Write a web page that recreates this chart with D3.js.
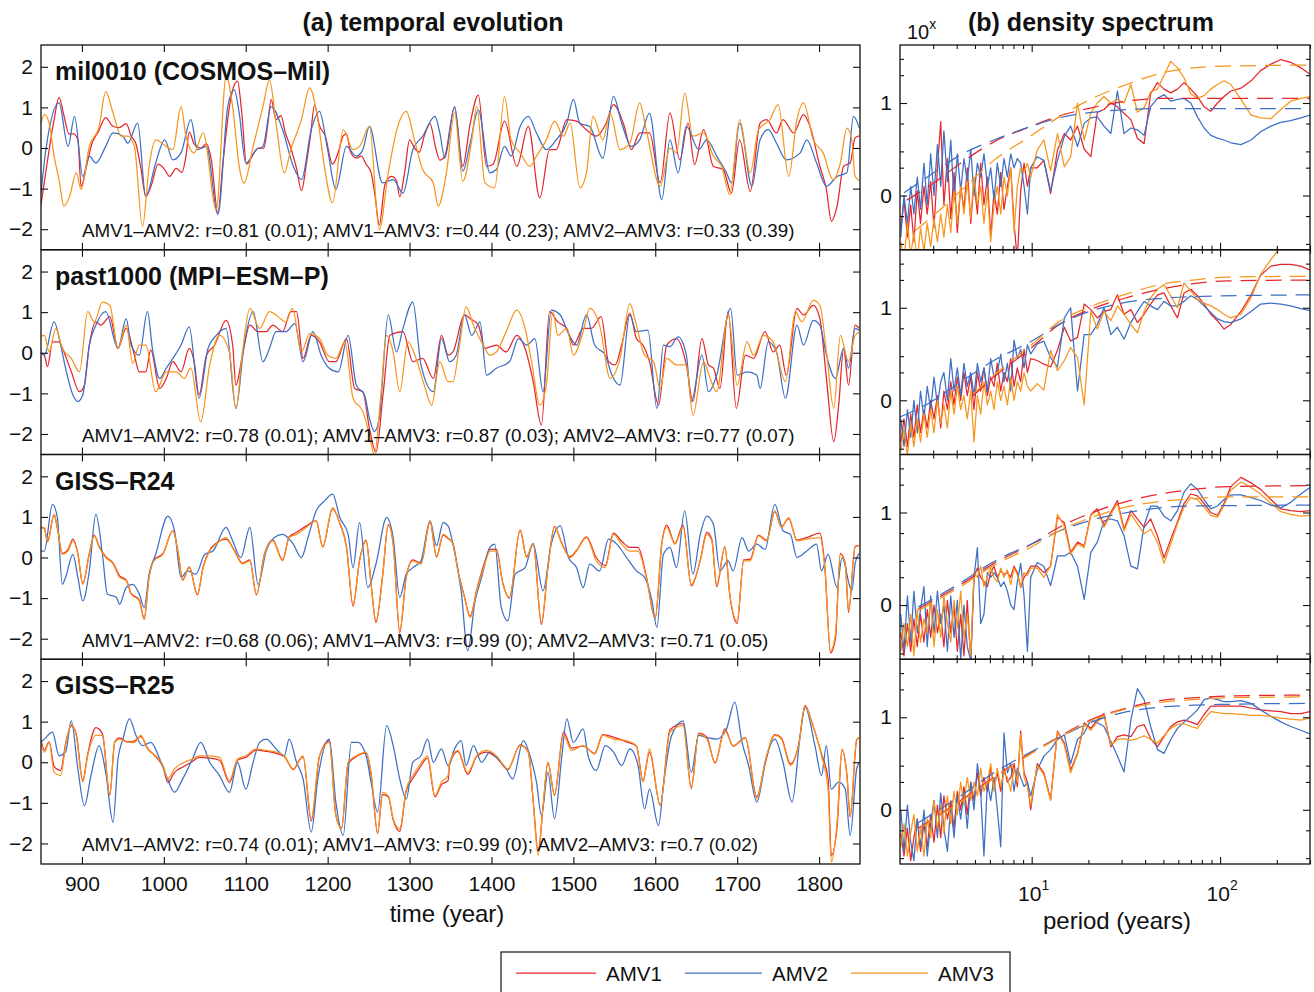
<!DOCTYPE html>
<html><head><meta charset="utf-8">
<script src="https://cdn.jsdelivr.net/npm/d3@7"></script>
<style>body{margin:0;background:#fff}svg{font-family:"Liberation Sans",Arial,Helvetica,sans-serif}</style>
</head><body>
<svg id="c" width="1314" height="992"></svg>
<script>
// ---------------- DATA ----------------
const panelNames = ["mil0010 (COSMOS\u2013Mil)", "past1000 (MPI\u2013ESM\u2013P)", "GISS\u2013R24", "GISS\u2013R25"];
const statTexts = [
  "AMV1\u2013AMV2: r=0.81 (0.01); AMV1\u2013AMV3: r=0.44 (0.23); AMV2\u2013AMV3: r=0.33 (0.39)",
  "AMV1\u2013AMV2: r=0.78 (0.01); AMV1\u2013AMV3: r=0.87 (0.03); AMV2\u2013AMV3: r=0.77 (0.07)",
  "AMV1\u2013AMV2: r=0.68 (0.06); AMV1\u2013AMV3: r=0.99 (0); AMV2\u2013AMV3: r=0.71 (0.05)",
  "AMV1\u2013AMV2: r=0.74 (0.01); AMV1\u2013AMV3: r=0.99 (0); AMV2\u2013AMV3: r=0.7 (0.02)"
];
const seriesNames = ["AMV1", "AMV2", "AMV3"];
const timeTicks = [900,1000,1100,1200,1300,1400,1500,1600,1700,1800];
const ampTicks = [-2,-1,0,1,2];
const specMajorTicks = [10,100];
const specMinorTicks = [3,4,5,6,7,8,9,20,30,40,50,60,70,80,90,200,300];
const specYLabelTicks = [0,1];
const specYMinorTicks = [-0.523,-0.222,0.301,0.477,0.778,1.301,1.477];

// time series [year, normalized AMV]
const p1Amv1 = [[850,-1.4],[858,-0.3],[866,0.7],[872,1.25],[878,0.8],[884,0.35],[890,0.35],[895,0.2],[899,-0.95],[905,-0.5],[912,0.1],[920,0.4],[929,0.75],[937,0.55],[945,0.5],[954,0.6],[960,0.3],[966,0.1],[972,-0.5],[978,-1.2],[985,-0.9],[993,-0.4],[1000,-0.5],[1007,-0.7],[1015,-0.5],[1022,-0.6],[1027,-0.2],[1031,0.4],[1037,0.1],[1045,0.0],[1052,0.1],[1058,-0.3],[1066,-1.6],[1072,-0.4],[1080,1.0],[1085,1.5],[1090,1.65],[1095,0.9],[1101,-0.4],[1108,-0.2],[1115,0.0],[1122,0.0],[1127,0.6],[1131,1.2],[1137,0.7],[1143,0.8],[1148,0.4],[1155,0.0],[1162,-0.5],[1168,-1.05],[1174,-0.4],[1179,0.3],[1184,1.05],[1190,0.55],[1197,0.3],[1206,-0.4],[1213,-0.1],[1219,0.3],[1223,0.35],[1228,-0.1],[1235,-0.25],[1241,-0.2],[1247,-0.4],[1253,-0.6],[1258,-1.2],[1263,-1.9],[1270,-0.9],[1278,-0.7],[1284,-0.8],[1288,-1.2],[1294,-0.6],[1300,0.2],[1306,0.0],[1312,-0.1],[1318,0.3],[1325,0.6],[1332,0.0],[1337,-0.3],[1343,-0.2],[1355,1.0],[1365,-0.45],[1374,0.6],[1384,1.3],[1394,-0.45],[1402,-0.4],[1416,0.66],[1431,-0.45],[1445,0.53],[1459,-1.23],[1471,-0.04],[1479,-0.04],[1492,0.7],[1504,0.66],[1516,0.45],[1528,0.29],[1540,0.61],[1549,1.07],[1561,0.61],[1571,-0.04],[1581,0.37],[1593,0.37],[1606,-0.86],[1618,0.86],[1630,-0.29],[1640,0.61],[1648,-0.41],[1659,0.45],[1671,-0.45],[1683,-0.53],[1693,-1.11],[1703,0.2],[1716,-1.07],[1728,0.61],[1736,0.7],[1748,0.37],[1756,0.7],[1769,0.37],[1781,0.82],[1789,0.53],[1801,-0.45],[1809,-1.02],[1815,-1.8],[1822,-1.43],[1830,-0.45],[1838,-0.37],[1844,0.25],[1849,0.3]];
const p1Amv2 = [[850,-1.11],[856,-0.04],[872,1.11],[883,0.04],[891,0.78],[901,-0.7],[909,-0.2],[917,-0.37],[929,0.04],[938,0.37],[950,0.29],[956,0.12],[968,0.61],[978,-1.19],[990,-0.37],[1001,0.2],[1011,-0.29],[1021,-0.12],[1033,0.7],[1041,-0.04],[1052,0.04],[1066,-1.64],[1078,1.02],[1086,1.43],[1092,0.86],[1100,-0.37],[1113,-0.04],[1121,0.04],[1131,1.02],[1145,0.45],[1158,-0.45],[1168,-0.78],[1180,0.45],[1190,0.9],[1200,-0.04],[1210,-1.02],[1223,0.04],[1235,-0.2],[1243,-0.04],[1251,0.53],[1267,-0.86],[1280,-0.78],[1292,-1.11],[1304,-0.04],[1316,0.29],[1331,0.78],[1337,0.37],[1343,-0.25],[1355,1.02],[1365,-0.57],[1374,0.12],[1384,0.94],[1398,-0.61],[1406,-0.53],[1416,0.04],[1424,-0.2],[1435,0.53],[1445,0.78],[1455,0.37],[1467,-0.04],[1479,0.2],[1492,0.61],[1500,1.2],[1508,0.61],[1520,0.53],[1536,-0.25],[1549,1.27],[1559,0.61],[1571,0.04],[1581,0.2],[1593,0.86],[1608,-1.27],[1618,0.2],[1628,-0.61],[1638,0.53],[1653,-0.04],[1663,0.2],[1675,-0.2],[1687,-0.61],[1693,-0.86],[1703,0.61],[1718,-0.94],[1728,0.2],[1738,0.45],[1748,0.12],[1760,-0.29],[1777,-0.12],[1785,0.2],[1797,-0.37],[1809,-0.94],[1822,-0.7],[1834,-0.61],[1842,0.78],[1849,0.5]];
const p1Amv3 = [[850,0.61],[854,0.82],[860,0.61],[866,-0.2],[872,-0.78],[878,-1.43],[885,-1.19],[893,-0.61],[899,-1.02],[909,0.04],[921,0.53],[929,1.39],[938,0.86],[948,0.29],[956,0.29],[964,0.04],[974,-1.93],[982,-0.45],[990,0.2],[1003,0.04],[1011,-0.04],[1021,1.02],[1027,0.29],[1037,-0.12],[1048,0.37],[1064,-1.52],[1076,1.76],[1084,1.02],[1092,-0.45],[1098,-0.86],[1109,0.04],[1121,1.02],[1129,1.68],[1137,0.61],[1147,-0.61],[1155,-0.04],[1168,0.7],[1178,1.48],[1188,0.7],[1196,-0.45],[1206,-1.35],[1219,0.45],[1231,-0.04],[1239,0.04],[1251,0.53],[1263,-2.01],[1274,-0.61],[1285,0.49],[1296,0.9],[1306,0.2],[1316,-0.53],[1329,-0.86],[1335,-1.43],[1345,-0.61],[1355,0.86],[1365,-0.82],[1376,0.2],[1382,1.02],[1392,-0.86],[1404,-0.98],[1416,1.27],[1424,0.2],[1435,-0.12],[1447,-0.45],[1455,-0.2],[1467,0.2],[1477,0.66],[1488,0.29],[1496,0.61],[1508,-0.98],[1516,-0.61],[1524,0.78],[1536,0.2],[1545,0.86],[1557,-0.04],[1569,0.12],[1581,1.11],[1589,0.45],[1606,-0.94],[1618,0.0],[1626,-0.12],[1636,1.35],[1646,0.29],[1659,0.37],[1671,-0.2],[1681,-0.45],[1691,-1.15],[1703,0.7],[1716,-0.61],[1726,0.45],[1740,0.7],[1750,1.07],[1763,-0.7],[1773,0.7],[1781,1.11],[1793,0.2],[1805,-0.12],[1817,-0.78],[1826,-0.37],[1834,0.49],[1840,0.2],[1844,-0.7],[1849,-0.8]];

const p2Amv1 = [[850,0.0],[854,-0.06],[858,-0.34],[864,0.27],[872,0.27],[878,0.02],[887,-0.47],[897,-0.96],[903,-0.8],[909,0.19],[917,0.76],[923,0.68],[934,0.89],[944,0.11],[954,0.6],[964,-0.06],[970,-0.47],[978,-0.47],[984,0.07],[995,-0.88],[1003,-0.63],[1011,-0.22],[1021,-0.47],[1031,0.11],[1037,-0.22],[1043,-1.04],[1052,-0.06],[1062,0.19],[1076,0.8],[1084,0.19],[1088,-0.8],[1096,-0.06],[1105,0.68],[1115,0.52],[1125,0.52],[1133,0.68],[1145,0.52],[1155,1.01],[1162,1.01],[1170,-0.14],[1180,0.43],[1190,0.27],[1202,-0.22],[1210,-0.22],[1223,0.35],[1233,-0.88],[1243,-0.96],[1251,-1.86],[1259,-2.45],[1268,-0.96],[1276,0.43],[1292,0.52],[1304,-0.22],[1316,-0.14],[1329,-0.63],[1339,0.43],[1347,-0.06],[1353,0.02],[1367,0.93],[1374,0.84],[1384,0.68],[1392,0.11],[1406,0.19],[1418,0.02],[1431,0.43],[1441,0.11],[1451,-0.71],[1461,-1.78],[1471,1.01],[1481,0.76],[1492,0.6],[1500,0.19],[1512,0.6],[1522,0.6],[1534,0.89],[1543,-0.22],[1551,-0.3],[1559,0.19],[1569,0.97],[1577,0.35],[1585,0.19],[1593,-0.22],[1604,-1.29],[1614,0.19],[1626,0.35],[1638,-0.3],[1646,-1.2],[1657,0.35],[1665,-0.3],[1671,-0.38],[1679,-0.88],[1689,1.01],[1699,-1.37],[1710,-0.06],[1720,-0.14],[1734,0.52],[1744,0.02],[1752,0.19],[1760,-0.55],[1773,1.09],[1781,0.93],[1793,1.17],[1801,0.84],[1809,-0.63],[1818,-2.19],[1824,-1.29],[1830,0.11],[1836,-0.8],[1844,0.68],[1849,0.6]];
const p2Amv2 = [[850,0.0],[854,-0.06],[866,0.76],[874,0.19],[880,-0.38],[889,-1.04],[895,-1.2],[901,-1.04],[909,0.19],[917,0.68],[929,1.01],[944,0.11],[954,0.84],[960,0.19],[970,-0.06],[980,1.01],[986,0.11],[995,-0.63],[1003,-0.38],[1011,-0.14],[1021,0.19],[1031,0.64],[1043,-1.12],[1054,0.11],[1064,0.43],[1076,0.6],[1088,-1.37],[1098,0.19],[1109,1.01],[1121,-0.22],[1129,0.11],[1137,0.52],[1149,0.52],[1160,0.72],[1170,-0.22],[1182,0.52],[1192,-0.06],[1202,-0.38],[1213,-0.47],[1225,0.43],[1235,-0.8],[1245,-1.04],[1251,-1.61],[1257,-1.94],[1263,-1.61],[1274,0.93],[1284,0.02],[1292,0.6],[1304,1.25],[1314,-0.3],[1329,-0.96],[1339,0.35],[1349,-0.22],[1357,-0.06],[1367,0.93],[1376,0.43],[1386,0.76],[1394,-0.55],[1406,-0.38],[1422,-0.22],[1433,0.35],[1443,0.19],[1453,0.35],[1463,-0.96],[1473,1.05],[1484,0.93],[1494,0.47],[1504,0.19],[1516,0.93],[1526,0.19],[1539,-0.06],[1547,-0.55],[1557,-0.8],[1569,0.93],[1577,0.52],[1591,0.56],[1602,-1.37],[1610,0.19],[1618,0.15],[1628,0.39],[1638,-0.06],[1644,-1.2],[1657,-0.06],[1665,-0.96],[1675,-0.55],[1692,1.09],[1700,-0.55],[1712,-0.47],[1724,-0.55],[1728,-0.88],[1738,0.27],[1748,0.02],[1759,-1.12],[1773,0.68],[1781,0.19],[1793,0.8],[1801,0.68],[1809,-0.06],[1820,-0.63],[1830,0.11],[1836,-0.38],[1844,0.6],[1849,0.55]];
const p2Amv3 = [[850,0.4],[854,0.43],[860,0.02],[868,0.6],[876,0.11],[887,-0.14],[897,-0.47],[907,1.01],[915,0.76],[925,1.25],[934,1.17],[944,0.11],[954,0.68],[962,-0.26],[970,0.19],[978,0.19],[990,-0.96],[1003,-0.47],[1015,-0.47],[1025,-0.63],[1033,-0.38],[1045,-1.7],[1056,-0.3],[1068,0.43],[1080,0.02],[1088,-1.37],[1096,0.02],[1105,1.09],[1117,0.6],[1129,1.01],[1137,0.93],[1149,0.76],[1157,1.09],[1168,0.02],[1178,0.47],[1190,0.35],[1200,-0.06],[1210,-0.14],[1221,0.27],[1231,-1.12],[1243,-1.45],[1251,-2.02],[1257,-2.52],[1265,-1.04],[1272,0.43],[1280,0.02],[1288,-0.96],[1298,0.27],[1308,-0.14],[1318,-0.8],[1327,-1.29],[1337,-0.22],[1347,-0.71],[1353,-0.71],[1361,0.19],[1369,1.13],[1378,0.68],[1390,0.19],[1398,-0.06],[1406,0.02],[1418,0.52],[1431,1.05],[1441,0.6],[1449,-0.22],[1459,-1.29],[1467,-0.8],[1475,1.01],[1481,0.43],[1492,0.6],[1500,-0.06],[1512,0.52],[1520,1.09],[1532,0.68],[1545,-0.63],[1557,-0.14],[1569,1.21],[1577,0.68],[1587,-0.06],[1598,-0.22],[1606,-0.88],[1614,-0.14],[1626,-0.3],[1638,-0.3],[1646,-1.54],[1659,-0.22],[1667,-0.63],[1675,-0.96],[1689,0.93],[1700,-0.8],[1712,0.27],[1720,-0.06],[1732,0.43],[1744,0.27],[1759,-0.71],[1771,1.01],[1779,0.76],[1793,1.29],[1801,1.17],[1809,0.02],[1818,-1.37],[1826,0.43],[1836,-0.22],[1844,0.43],[1849,0.5]];

const p3Amv1 = [[850,0.75],[854,0.72],[858,0.4],[866,1.05],[870,0.72],[876,0.1],[883,0.2],[889,0.45],[895,0.1],[901,-0.64],[909,0.1],[915,0.55],[921,0.27],[929,0.02],[938,-0.14],[946,-0.45],[954,-0.55],[960,-0.88],[970,-1.05],[976,-1.52],[982,-0.47],[988,-0.06],[999,0.1],[1011,0.66],[1017,0.18],[1023,-0.55],[1031,-0.23],[1041,-0.92],[1048,-0.23],[1056,0.18],[1064,0.35],[1076,0.45],[1086,0.18],[1096,-0.14],[1105,-0.06],[1113,-0.92],[1123,0.1],[1133,0.43],[1145,-0.06],[1153,0.51],[1162,0.62],[1174,0.78],[1186,0.9],[1194,0.27],[1206,1.2],[1215,0.84],[1223,0.27],[1231,-1.2],[1239,-0.06],[1247,0.43],[1253,-0.64],[1259,-1.6],[1267,-0.47],[1274,0.8],[1280,0.35],[1288,-1.85],[1296,-0.47],[1304,-0.06],[1314,-0.14],[1325,0.88],[1333,0.02],[1341,0.55],[1347,0.47],[1353,0.35],[1359,-0.31],[1367,-0.96],[1374,-1.45],[1382,-0.8],[1392,-0.1],[1398,0.2],[1406,0.2],[1414,-0.64],[1422,-1.0],[1435,0.68],[1443,0.02],[1451,0.35],[1461,-1.65],[1469,-0.23],[1477,0.76],[1486,0.35],[1496,0.02],[1504,0.18],[1516,0.51],[1528,0.0],[1539,-0.2],[1549,0.6],[1559,0.4],[1569,0.25],[1579,0.25],[1589,-0.45],[1600,-1.5],[1608,0.35],[1614,0.8],[1624,0.35],[1634,0.8],[1644,-0.7],[1655,-0.06],[1663,0.62],[1669,0.45],[1675,-0.72],[1685,0.27],[1691,-0.92],[1700,-1.62],[1708,-0.06],[1716,-0.04],[1726,0.55],[1736,0.43],[1746,1.13],[1754,0.76],[1763,0.96],[1773,0.43],[1785,0.49],[1801,0.6],[1807,-0.2],[1814,-2.35],[1820,-2.0],[1826,0.1],[1832,-0.14],[1836,-1.35],[1844,0.27],[1849,0.3]];
const p3Amv2 = [[850,0.16],[854,0.16],[864,1.31],[870,0.98],[876,-0.66],[880,-0.49],[889,0.08],[895,-0.49],[901,-1.07],[909,-0.33],[917,1.07],[925,0.08],[931,-0.9],[942,-0.98],[946,-1.15],[954,-0.74],[962,-0.66],[970,-0.9],[976,-1.23],[982,-0.41],[990,0.08],[1005,1.02],[1013,0.66],[1021,-0.49],[1029,-0.33],[1039,-0.41],[1050,0.08],[1060,0.16],[1076,0.74],[1084,0.41],[1094,0.0],[1105,0.74],[1115,-0.66],[1125,0.16],[1135,0.49],[1145,0.57],[1158,0.33],[1168,0.0],[1176,0.49],[1186,1.15],[1196,1.39],[1206,1.56],[1215,0.98],[1225,0.57],[1231,-0.25],[1239,0.86],[1249,-0.74],[1259,-0.16],[1272,0.98],[1280,0.49],[1288,-0.98],[1296,-0.41],[1304,-0.25],[1314,-0.08],[1325,0.9],[1333,0.29],[1341,0.86],[1347,0.78],[1353,0.33],[1363,-0.82],[1371,-2.3],[1380,-1.07],[1388,-0.49],[1398,0.25],[1404,0.33],[1412,-1.23],[1420,-1.56],[1429,-0.41],[1441,-0.25],[1451,0.33],[1463,-0.82],[1473,0.33],[1484,0.78],[1494,0.0],[1504,-0.25],[1512,-0.74],[1520,-0.16],[1532,-0.33],[1543,0.45],[1553,0.33],[1565,0.0],[1577,-0.33],[1587,-0.49],[1596,-1.07],[1602,-1.72],[1610,0.08],[1618,0.25],[1626,-0.25],[1636,1.15],[1646,-0.41],[1655,0.57],[1663,1.02],[1671,0.82],[1679,-0.33],[1689,-0.08],[1695,-0.33],[1706,0.49],[1714,0.16],[1724,0.33],[1734,0.2],[1746,1.31],[1756,0.66],[1765,0.57],[1773,0.0],[1785,0.16],[1797,0.33],[1803,-0.33],[1811,0.08],[1822,-0.74],[1828,0.0],[1840,-0.82],[1844,-0.16],[1849,0.1]];
const p3Amv3 = [[850,0.7],[854,0.74],[858,0.37],[866,1.07],[870,0.74],[876,0.08],[883,0.16],[889,0.41],[895,0.08],[901,-0.66],[909,0.08],[915,0.53],[921,0.25],[929,0.0],[938,-0.16],[946,-0.49],[954,-0.57],[960,-0.9],[970,-1.07],[976,-1.48],[982,-0.49],[988,-0.08],[999,0.08],[1011,0.66],[1017,0.16],[1023,-0.57],[1031,-0.25],[1041,-0.9],[1048,-0.25],[1056,0.16],[1064,0.33],[1076,0.49],[1086,0.16],[1096,-0.16],[1105,-0.08],[1113,-0.9],[1123,0.08],[1133,0.41],[1145,-0.08],[1153,0.49],[1162,0.57],[1174,0.74],[1186,0.9],[1194,0.25],[1206,1.23],[1215,0.82],[1223,0.25],[1231,-1.15],[1239,-0.08],[1247,0.41],[1253,-0.66],[1259,-1.56],[1267,-0.49],[1274,0.82],[1280,0.33],[1288,-1.8],[1296,-0.49],[1304,-0.08],[1314,-0.16],[1325,0.9],[1333,0.0],[1341,0.57],[1347,0.49],[1353,0.33],[1359,-0.33],[1367,-0.98],[1374,-1.48],[1382,-0.82],[1392,-0.16],[1398,0.16],[1406,0.16],[1414,-0.66],[1422,-0.98],[1435,0.66],[1443,0.0],[1451,0.33],[1461,-1.6],[1469,-0.25],[1477,0.74],[1486,0.33],[1496,0.0],[1504,0.16],[1516,0.49],[1528,-0.08],[1539,-0.25],[1549,0.57],[1559,0.33],[1569,0.16],[1579,0.16],[1589,-0.49],[1600,-1.48],[1608,0.33],[1614,0.74],[1624,0.33],[1634,0.74],[1644,-0.66],[1655,-0.08],[1663,0.57],[1669,0.41],[1675,-0.66],[1685,0.25],[1691,-0.9],[1700,-1.56],[1708,-0.08],[1716,-0.08],[1726,0.53],[1736,0.41],[1746,1.15],[1754,0.74],[1763,0.98],[1773,0.41],[1785,0.45],[1801,0.49],[1807,-0.25],[1814,-2.3],[1820,-1.89],[1826,0.08],[1832,-0.16],[1836,-1.31],[1844,0.25],[1849,0.3]];

const p4Amv1 = [[850,0.55],[854,0.3],[860,0.5],[866,-0.1],[874,-0.2],[880,0.45],[887,0.9],[893,0.7],[901,-0.45],[907,0.2],[917,0.85],[925,0.7],[934,-0.8],[940,0.5],[946,0.6],[956,0.5],[964,0.52],[972,0.64],[980,0.35],[990,0.14],[999,-0.12],[1005,-0.5],[1013,-0.25],[1025,-0.1],[1035,0.02],[1043,0.12],[1056,0.1],[1068,0.05],[1080,-0.5],[1090,0.05],[1100,0.12],[1113,0.3],[1125,0.27],[1137,0.22],[1147,0.14],[1158,-0.18],[1166,0.06],[1170,0.14],[1180,-1.45],[1190,0.14],[1202,0.53],[1210,-1.3],[1217,-1.62],[1225,-0.04],[1235,0.14],[1247,0.23],[1253,-0.3],[1261,-1.75],[1267,-0.8],[1274,-0.85],[1280,-1.42],[1288,-1.7],[1296,-0.7],[1304,-0.4],[1312,-0.15],[1322,0.1],[1331,-0.85],[1339,-0.55],[1347,-0.45],[1349,-0.05],[1359,0.27],[1371,-0.3],[1382,0.14],[1394,0.25],[1406,0.12],[1420,-0.18],[1435,0.43],[1445,0.25],[1451,-0.95],[1457,-2.2],[1463,-1.1],[1469,0.0],[1477,-0.8],[1488,0.75],[1498,0.35],[1512,0.4],[1526,0.22],[1536,0.68],[1549,0.62],[1565,0.5],[1577,0.4],[1585,-0.45],[1593,0.25],[1606,-1.05],[1618,0.8],[1634,0.95],[1644,-0.62],[1653,0.72],[1663,0.62],[1673,-0.02],[1685,0.82],[1695,0.4],[1710,0.6],[1724,-0.85],[1734,-0.05],[1746,0.68],[1754,0.6],[1765,-0.04],[1775,0.43],[1783,1.4],[1791,1.0],[1803,0.2],[1811,-0.4],[1815,-2.3],[1822,-1.6],[1828,0.3],[1834,-0.3],[1838,-1.35],[1846,0.55],[1849,0.6]];
const p4Amv2 = [[850,0.5],[854,0.57],[864,0.74],[872,0.16],[880,0.25],[887,1.02],[895,-0.16],[903,-1.07],[911,-0.33],[921,0.41],[929,-0.25],[938,-1.48],[944,0.08],[950,0.57],[958,1.07],[966,0.66],[974,0.41],[984,0.49],[995,0.08],[1003,-0.33],[1013,-0.74],[1023,-0.41],[1035,0.08],[1045,0.49],[1056,0.0],[1068,-0.33],[1080,-0.74],[1090,0.0],[1100,-0.66],[1109,0.0],[1117,0.49],[1125,0.57],[1137,0.33],[1147,0.16],[1153,0.57],[1162,0.0],[1170,-0.41],[1180,-1.72],[1188,-0.41],[1202,0.57],[1210,-0.98],[1219,-1.8],[1229,0.49],[1237,0.49],[1247,0.16],[1253,-0.49],[1261,-1.23],[1272,0.9],[1280,0.41],[1288,-0.41],[1296,-0.9],[1304,0.0],[1314,0.16],[1322,0.57],[1329,0.0],[1339,0.33],[1347,-0.08],[1355,0.33],[1363,0.53],[1369,-0.08],[1378,0.41],[1388,0.0],[1398,0.25],[1408,0.08],[1418,-0.16],[1426,-0.41],[1439,0.53],[1447,0.16],[1455,-0.49],[1461,-1.31],[1469,-0.25],[1477,-1.39],[1486,0.16],[1492,1.07],[1500,0.49],[1512,0.82],[1518,0.16],[1528,-0.2],[1539,0.41],[1549,0.25],[1559,-0.08],[1569,0.33],[1579,-0.08],[1587,-1.15],[1593,-0.66],[1604,-1.56],[1610,-0.57],[1620,0.66],[1634,1.02],[1644,-0.25],[1653,0.66],[1663,0.61],[1675,0.57],[1687,0.82],[1697,1.48],[1706,0.49],[1714,-0.08],[1724,-0.98],[1736,0.16],[1746,0.57],[1756,0.0],[1767,-0.98],[1777,0.66],[1783,1.35],[1795,0.41],[1803,-0.33],[1809,0.41],[1815,-0.66],[1824,-0.49],[1832,-0.66],[1838,-1.8],[1846,-0.16],[1849,0.0]];
const p4Amv3 = [[850,0.5],[854,0.25],[860,0.49],[866,-0.25],[874,-0.33],[880,0.41],[887,0.94],[893,0.66],[901,-0.49],[907,0.16],[917,0.66],[925,0.66],[934,-0.82],[940,0.49],[946,0.57],[956,0.49],[964,0.49],[972,0.66],[980,0.33],[990,0.16],[999,-0.08],[1005,-0.41],[1013,-0.16],[1025,0.0],[1035,0.08],[1043,0.16],[1056,0.16],[1068,0.12],[1080,-0.45],[1090,0.08],[1100,0.16],[1113,0.33],[1125,0.29],[1137,0.25],[1147,0.16],[1158,-0.16],[1166,0.08],[1170,0.16],[1180,-1.39],[1190,0.16],[1202,0.49],[1210,-1.31],[1217,-1.64],[1225,0.0],[1235,0.16],[1247,0.25],[1253,-0.25],[1261,-1.72],[1267,-0.74],[1274,-0.82],[1280,-1.39],[1288,-1.64],[1296,-0.66],[1304,-0.33],[1312,-0.08],[1322,0.16],[1331,-0.82],[1339,-0.49],[1347,-0.33],[1349,0.0],[1359,0.29],[1371,-0.25],[1382,0.16],[1394,0.29],[1406,0.16],[1420,-0.16],[1435,0.41],[1445,0.25],[1451,-0.98],[1457,-2.3],[1463,-1.07],[1469,0.0],[1477,-0.82],[1488,0.66],[1498,0.29],[1512,0.41],[1526,0.2],[1536,0.66],[1549,0.57],[1565,0.53],[1577,0.41],[1585,-0.49],[1593,0.33],[1606,-1.07],[1618,0.74],[1634,0.9],[1644,-0.66],[1653,0.7],[1663,0.57],[1673,0.0],[1685,0.78],[1695,0.41],[1710,0.61],[1724,-0.9],[1734,0.0],[1746,0.66],[1754,0.57],[1765,-0.08],[1775,0.41],[1783,1.39],[1791,0.98],[1803,0.16],[1811,-0.66],[1815,-2.46],[1822,-1.48],[1828,0.33],[1834,-0.33],[1838,-1.31],[1846,0.57],[1849,0.6]];

// spectra: shared period grid (years) and log10 density values
const specPeriods = [2.02,2.10,2.19,2.28,2.37,2.47,2.57,2.68,2.79,2.91,3.03,3.16,3.29,3.42,3.57,3.72,3.87,4.03,4.20,4.37,4.55,4.75,4.94,5.15,5.36,5.58,5.82,6.06,6.31,6.57,6.85,7.13,7.43,7.74,8.06,8.39,8.74,9.11,9.49,9.88,10.7,11.6,12.6,13.7,14.9,16.1,17.5,19.0,20.6,22.3,24.2,26.3,28.5,30.9,33.6,36.4,39.5,42.8,46.5,50.4,54.7,59.4,64.4,69.9,75.8,82.2,89.2,96.8,105,114,129,146,164,186,210,237,268,300];
const s1Amv1 = [-0.35,-0.05,-0.45,-0.1,-0.5,0.05,-0.3,0.1,-0.2,0.15,-0.35,0.3,0.8,-0.1,0.4,-0.25,0.25,-0.4,0.1,-0.15,0.3,-0.3,0.15,-0.2,0.35,-0.1,0.2,-0.45,0.05,-0.2,0.25,-0.15,0.1,0.3,-0.3,-0.7,0.05,0.35,0.1,0.3,0.3,0.38,0.02,0.49,0.67,0.6,0.75,0.5,0.42,0.9,0.93,1.0,0.96,0.89,0.82,0.62,0.56,1.1,1.22,1.15,1.11,1.15,1.22,1.15,1.07,0.96,0.91,1.0,1.07,1.13,1.16,1.24,1.35,1.42,1.47,1.44,1.38,1.31];
const s1Amv2 = [-0.45,0.0,-0.3,0.1,-0.2,0.2,-0.15,0.35,-0.1,0.45,0.0,0.55,0.1,0.7,0.15,0.6,-0.05,0.45,0.05,0.4,0.15,0.5,0.0,0.35,0.2,0.45,0.1,0.3,-0.05,0.35,0.1,0.4,0.2,0.45,0.3,0.4,0.35,0.1,-0.2,0.3,0.42,0.38,0.05,0.38,0.64,0.75,0.53,0.78,0.84,0.85,0.75,0.67,1.13,0.67,0.73,0.71,0.65,0.96,1.05,1.09,1.02,1.04,1.05,1.0,0.85,0.73,0.65,0.62,0.6,0.57,0.55,0.6,0.69,0.75,0.79,0.81,0.84,0.87];
const s1Amv3 = [-0.5,-0.7,-0.3,-0.65,-0.4,-0.7,-0.35,-0.6,-0.3,-0.55,-0.25,-0.5,-0.2,-0.45,-0.1,-0.4,0.05,-0.3,0.1,-0.2,0.15,-0.25,0.2,-0.1,0.1,-0.3,0.05,-0.5,-0.1,0.1,-0.2,0.2,0.0,0.3,-0.4,0.1,0.3,0.25,0.35,0.2,0.49,0.6,0.27,0.67,0.31,0.42,1.0,0.6,0.89,1.0,1.07,1.0,1.04,1.0,1.2,0.9,0.95,1.12,1.15,1.3,1.45,1.38,1.27,1.1,1.05,1.08,1.15,1.2,1.24,1.2,1.04,0.87,0.84,0.83,0.93,1.02,1.05,1.07];
const s2Amv1 = [-0.45,-0.2,-0.5,-0.15,-0.4,-0.05,-0.35,-0.1,-0.3,0.0,-0.2,0.05,-0.3,0.1,-0.1,0.2,-0.05,0.25,0.0,0.3,0.05,0.25,-0.1,0.3,0.1,0.35,0.05,0.25,0.15,0.4,0.1,0.3,0.2,0.45,0.15,0.35,0.2,0.55,0.3,0.45,0.43,0.39,0.36,0.54,0.79,0.64,0.68,1.04,0.98,0.89,0.96,0.98,1.14,0.93,0.98,0.84,0.93,1.04,1.14,1.16,1.02,0.89,1.16,1.2,1.13,1.04,0.93,0.86,0.77,0.82,0.96,1.14,1.35,1.45,1.47,1.47,1.45,1.41];
const s2Amv2 = [-0.2,-0.5,-0.1,-0.4,0.0,-0.35,0.1,-0.2,0.15,-0.1,0.25,-0.05,0.2,0.3,0.0,0.45,0.1,0.35,0.05,0.4,0.15,0.3,0.05,0.4,0.2,0.35,0.1,0.45,0.25,0.3,0.5,0.2,0.4,0.1,0.65,0.45,0.55,0.35,0.6,0.5,0.61,0.64,0.46,0.36,0.89,1.0,0.1,0.71,0.71,0.82,1.0,0.71,0.79,0.66,0.84,0.96,1.07,1.02,0.98,1.07,1.02,1.02,1.07,1.13,1.09,1.02,0.95,0.88,0.85,0.84,0.88,0.96,1.04,1.05,1.04,1.02,0.99,0.97];
const s2Amv3 = [-0.55,-0.3,-0.6,-0.25,-0.5,-0.2,-0.45,-0.15,-0.4,-0.1,-0.35,0.0,-0.25,-0.05,-0.3,0.1,-0.15,0.15,-0.1,0.05,-0.2,0.1,-0.45,0.05,-0.15,0.2,-0.05,0.1,-0.1,0.2,0.0,0.15,-0.05,0.25,0.0,0.2,0.1,0.3,0.15,0.1,0.18,0.11,0.54,0.32,0.43,0.57,0.46,-0.05,0.96,0.77,0.96,0.86,1.02,0.93,0.82,0.73,0.96,1.11,1.2,1.25,1.13,1.0,1.27,1.18,1.09,1.05,1.02,0.98,0.93,0.89,0.93,1.11,1.36,1.52,1.66,1.72,1.75,1.76];
const s3Amv1 = [-0.3,-0.55,-0.2,-0.5,-0.15,-0.45,-0.1,-0.4,-0.05,-0.35,0.0,-0.3,-0.1,-0.45,0.05,-0.3,0.0,-0.5,-0.1,-0.55,0.05,-0.6,0.3,0.4,0.3,0.25,0.2,0.35,0.42,0.3,0.37,0.33,0.35,0.3,0.42,0.35,0.19,0.3,0.35,0.42,0.42,0.35,0.42,0.95,0.89,0.57,0.68,0.64,0.98,1.04,0.86,1.0,1.13,0.82,1.02,0.93,0.84,0.93,0.75,0.51,0.71,0.9,1.1,1.2,1.18,1.1,1.0,0.97,1.1,1.28,1.38,1.32,1.25,1.14,1.04,1.02,1.01,1.02];
const s3Amv2 = [-0.1,-0.5,0.1,-0.4,0.15,-0.3,-0.05,0.2,-0.45,0.1,-0.3,0.15,-0.2,0.0,-0.5,0.1,-0.35,0.05,-0.6,0.0,-0.45,-0.6,0.3,0.62,-0.2,-0.1,0.35,0.3,0.35,0.3,0.2,0.25,0.15,0.0,-0.05,0.25,0.45,0.1,-0.5,0.3,0.46,0.42,0.21,0.53,0.53,0.57,0.42,0.06,0.57,0.68,0.91,0.93,0.91,0.75,0.42,0.39,0.86,1.07,1.07,0.96,0.91,1.02,1.22,1.31,1.25,1.14,1.04,1.07,1.14,1.19,1.19,1.16,1.13,1.08,1.05,1.11,1.2,1.27];
const s3Amv3 = [-0.5,-0.2,-0.45,-0.1,-0.55,-0.05,-0.4,-0.15,-0.3,0.05,-0.45,-0.05,-0.35,0.1,-0.2,-0.4,0.05,-0.25,0.15,-0.35,-0.1,-0.55,0.35,0.3,0.42,0.2,0.3,0.4,0.3,0.25,0.4,0.3,0.38,0.22,0.4,0.33,0.2,0.35,0.32,0.4,0.4,0.3,0.42,0.98,0.85,0.55,0.66,0.62,0.97,1.02,0.84,0.98,1.1,0.8,0.98,0.88,0.77,0.82,0.68,0.45,0.66,0.88,1.06,1.16,1.14,1.06,0.97,0.95,1.08,1.24,1.33,1.27,1.2,1.1,1.01,0.98,0.96,0.97];
const s4Amv1 = [-0.25,-0.5,-0.2,-0.55,-0.3,-0.1,-0.45,-0.15,-0.4,-0.05,-0.35,0.05,-0.3,0.15,-0.1,0.1,-0.2,0.2,0.0,0.25,-0.05,0.3,0.1,0.4,0.15,0.35,0.2,0.45,0.25,0.4,0.2,0.45,0.3,0.35,0.5,0.25,0.85,0.4,0.3,0.0,0.5,0.4,0.11,0.85,0.72,0.43,0.61,0.94,0.88,0.97,1.04,0.68,0.79,0.81,0.79,0.9,0.92,0.77,0.68,0.79,0.9,0.95,0.97,0.95,0.92,1.03,1.12,1.12,1.12,1.12,1.12,1.1,1.08,1.07,1.06,1.04,1.04,1.06];
const s4Amv2 = [0.0,-0.45,0.05,-0.35,-0.55,-0.1,-0.4,0.0,-0.5,-0.15,0.1,-0.3,0.18,-0.2,-0.45,0.05,-0.3,0.15,-0.1,0.2,-0.2,0.3,0.0,0.5,0.2,-0.5,0.3,0.1,0.35,0.0,-0.4,0.83,0.4,0.5,0.2,0.45,0.35,0.25,0.3,0.15,0.43,0.58,0.65,0.76,0.81,0.5,0.76,0.83,0.97,0.94,0.9,0.74,0.58,0.41,0.97,1.31,1.19,0.9,0.65,0.61,0.76,0.88,0.95,1.01,1.08,1.19,1.21,1.19,1.17,1.17,1.18,1.15,1.08,1.01,0.95,0.9,0.86,0.82];
const s4Amv3 = [-0.4,-0.15,-0.5,-0.25,-0.05,-0.45,-0.2,-0.5,-0.1,-0.3,0.1,-0.2,0.05,-0.25,0.15,-0.15,0.2,-0.05,0.3,0.05,0.35,0.1,0.3,0.15,0.45,0.2,0.3,0.5,0.2,0.45,0.25,0.4,0.35,0.2,0.45,0.3,0.82,0.35,0.25,0.05,0.48,0.38,0.1,0.84,0.7,0.4,0.6,0.92,0.86,0.95,1.02,0.7,0.76,0.77,0.75,0.77,0.8,0.76,0.72,0.8,0.88,0.92,0.93,0.9,0.88,0.98,1.06,1.05,1.04,1.04,1.03,1.02,1.02,1.01,0.99,0.98,0.97,0.99];

// AR(1)-type reference spectra (dashed), [period, log10 density]
const d1Amv1 = [[2.17,-0.05],[2.8,0.09],[4.2,0.35],[6.3,0.58],[10,0.75],[14,0.86],[21,0.95],[32,1.02],[48,1.05],[300,1.05]];
const d1Amv2 = [[2.1,0.03],[2.8,0.2],[4.2,0.44],[6.3,0.6],[10,0.75],[14,0.84],[21,0.9],[32,0.93],[48,0.94],[300,0.94]];
const d1Amv3 = [[2.4,-0.38],[2.8,-0.27],[4.2,0.05],[6.3,0.38],[10,0.65],[14,0.85],[21,1.05],[32,1.2],[48,1.32],[72,1.38],[110,1.4],[300,1.41]];
const d2Amv1 = [[4.9,0.05],[6.3,0.25],[10,0.57],[14,0.82],[21,0.99],[32,1.11],[48,1.2],[72,1.26],[110,1.29],[300,1.3]];
const d2Amv2 = [[2.0,-0.18],[2.8,-0.04],[4.2,0.2],[6.3,0.43],[10,0.64],[14,0.82],[21,0.97],[32,1.06],[48,1.1],[72,1.12],[300,1.14]];
const d2Amv3 = [[4.9,0.07],[6.3,0.27],[10,0.6],[14,0.85],[21,1.02],[32,1.15],[48,1.25],[72,1.3],[110,1.33],[300,1.34]];
const d3Amv1 = [[2.5,-0.04],[4.2,0.22],[6.3,0.45],[10,0.66],[14,0.84],[21,1.0],[32,1.12],[48,1.2],[72,1.25],[110,1.28],[300,1.29]];
const d3Amv2 = [[2.5,-0.02],[4.2,0.24],[6.3,0.47],[10,0.66],[14,0.8],[21,0.92],[32,1.0],[48,1.05],[72,1.07],[300,1.08]];
const d3Amv3 = [[2.5,-0.06],[4.2,0.2],[6.3,0.43],[10,0.63],[14,0.8],[21,0.95],[32,1.06],[48,1.12],[72,1.15],[110,1.17],[300,1.17]];
const d4Amv1 = [[2.5,-0.2],[4.2,0.1],[6.3,0.35],[10,0.62],[14,0.79],[21,0.98],[32,1.1],[48,1.18],[72,1.21],[110,1.23],[300,1.24]];
const d4Amv2 = [[2.5,-0.14],[4.2,0.15],[6.3,0.4],[10,0.63],[14,0.78],[21,0.95],[32,1.06],[48,1.11],[72,1.13],[110,1.14],[300,1.15]];
const d4Amv3 = [[2.5,-0.21],[4.2,0.09],[6.3,0.34],[10,0.61],[14,0.78],[21,0.97],[32,1.09],[48,1.16],[72,1.19],[110,1.21],[300,1.22]];

// ---------------- LAYOUT ----------------
const colors = ["#e5262c", "#3d6fc5", "#f6961d"];
const timeSeries = [[p1Amv1,p1Amv2,p1Amv3],[p2Amv1,p2Amv2,p2Amv3],[p3Amv1,p3Amv2,p3Amv3],[p4Amv1,p4Amv2,p4Amv3]];
const spectra = [[s1Amv1,s1Amv2,s1Amv3],[s2Amv1,s2Amv2,s2Amv3],[s3Amv1,s3Amv2,s3Amv3],[s4Amv1,s4Amv2,s4Amv3]];
const dashed = [[d1Amv1,d1Amv2,d1Amv3],[d2Amv1,d2Amv2,d2Amv3],[d3Amv1,d3Amv2,d3Amv3],[d4Amv1,d4Amv2,d4Amv3]];

const L = {x0:41, x1:860}, R = {x0:900, x1:1310};
const top0 = 45, ph = 204.75;
const svg = d3.select("#c");
const x = d3.scaleLinear().domain([850,1850]).range([L.x0, L.x1]);
const xs = d3.scaleLog().domain([2,300]).range([R.x0, R.x1]);
const lw = 1.25;
const fmtInt = d3.format("d");
const FONT = "Liberation Sans, Arial, sans-serif";

svg.append("text").attr("x",433).attr("y",31).attr("text-anchor","middle")
  .attr("font-weight","bold").attr("font-size",25).attr("fill","#111").text("(a) temporal evolution");
svg.append("text").attr("x",968).attr("y",31)
  .attr("font-weight","bold").attr("font-size",25).attr("fill","#111").text("(b) density spectrum");
const tx = svg.append("text").attr("x",907).attr("y",39).attr("font-size",20).attr("fill","#111");
tx.append("tspan").text("10");
tx.append("tspan").attr("dy",-10).attr("font-size",14).text("x");

const defs = svg.append("defs");

for (let k = 0; k < 4; k++) {
  const t = top0 + k*ph, b = t + ph;
  const y = d3.scaleLinear().domain([-2.506, 2.537]).range([b, t]);
  const ys = d3.scaleLinear().domain([-0.586, 1.627]).range([b, t]);

  defs.append("clipPath").attr("id","cl"+k).append("rect")
    .attr("x",L.x0).attr("y",t).attr("width",L.x1-L.x0).attr("height",ph);
  defs.append("clipPath").attr("id","cr"+k).append("rect")
    .attr("x",R.x0).attr("y",t).attr("width",R.x1-R.x0).attr("height",ph);

  // left: time series
  const gl = svg.append("g").attr("clip-path","url(#cl"+k+")");
  const line = d3.line().x(d=>x(d[0])).y(d=>y(d[1])).curve(d3.curveMonotoneX);
  timeSeries[k].forEach((s,i)=>{
    gl.append("path").attr("d",line(s)).attr("fill","none")
      .attr("stroke",colors[i]).attr("stroke-width",lw).attr("stroke-linejoin","round");
  });

  // right: spectra
  const gr = svg.append("g").attr("clip-path","url(#cr"+k+")");
  const sline = d3.line().x(d=>xs(d[0])).y(d=>ys(d[1]));
  const dline = d3.line().x(d=>xs(d[0])).y(d=>ys(d[1])).curve(d3.curveMonotoneX);
  spectra[k].forEach((s,i)=>{
    const pts = specPeriods.map((p,j)=>[p, s[j]]);
    gr.append("path").attr("d",sline(pts)).attr("fill","none")
      .attr("stroke",colors[i]).attr("stroke-width",lw).attr("stroke-linejoin","round");
  });
  dashed[k].forEach((s,i)=>{
    gr.append("path").attr("d",dline(s)).attr("fill","none")
      .attr("stroke",colors[i]).attr("stroke-width",lw).attr("stroke-dasharray","16,9");
  });

  // frames
  svg.append("rect").attr("x",L.x0).attr("y",t).attr("width",L.x1-L.x0).attr("height",ph)
    .attr("fill","none").attr("stroke","#111").attr("stroke-width",1.3);
  svg.append("rect").attr("x",R.x0).attr("y",t).attr("width",R.x1-R.x0).attr("height",ph)
    .attr("fill","none").attr("stroke","#111").attr("stroke-width",1.3);

  // left axes
  const ya = svg.append("g").attr("transform",`translate(${L.x0},0)`)
    .call(d3.axisLeft(y).tickValues(ampTicks).tickSize(-7).tickSizeOuter(0).tickPadding(8).tickFormat(fmtInt));
  ya.select(".domain").remove();
  ya.selectAll("text").attr("font-size",21).attr("font-family",FONT).attr("fill","#111");
  const yb = svg.append("g").attr("transform",`translate(${L.x1},0)`)
    .call(d3.axisRight(y).tickValues(ampTicks).tickSize(-7).tickSizeOuter(0).tickFormat(""));
  yb.select(".domain").remove();
  const xt = svg.append("g").attr("transform",`translate(0,${t})`)
    .call(d3.axisTop(x).tickValues(timeTicks).tickSize(-7).tickSizeOuter(0).tickFormat(""));
  xt.select(".domain").remove();
  const xb = svg.append("g").attr("transform",`translate(0,${b})`)
    .call(d3.axisBottom(x).tickValues(timeTicks).tickSize(-7).tickSizeOuter(0)
      .tickFormat(k===3 ? fmtInt : "").tickPadding(12));
  xb.select(".domain").remove();
  xb.selectAll("text").attr("font-size",21).attr("font-family",FONT).attr("fill","#111");

  // right axes
  [[d3.axisLeft, R.x0],[d3.axisRight, R.x1]].forEach(([ax,px],j)=>{
    const g1 = svg.append("g").attr("transform",`translate(${px},0)`)
      .call(ax(ys).tickValues(specYLabelTicks).tickSize(-7).tickSizeOuter(0)
        .tickFormat(j===0 ? fmtInt : "").tickPadding(8));
    g1.select(".domain").remove();
    g1.selectAll("text").attr("font-size",21).attr("font-family",FONT).attr("fill","#111");
    const g2 = svg.append("g").attr("transform",`translate(${px},0)`)
      .call(ax(ys).tickValues(specYMinorTicks).tickSize(-4).tickSizeOuter(0).tickFormat(""));
    g2.select(".domain").remove();
  });
  [[d3.axisTop, t],[d3.axisBottom, b]].forEach(([ax,py])=>{
    const g1 = svg.append("g").attr("transform",`translate(0,${py})`)
      .call(ax(xs).tickValues(specMajorTicks).tickSize(-7).tickSizeOuter(0).tickFormat(""));
    g1.select(".domain").remove();
    const g2 = svg.append("g").attr("transform",`translate(0,${py})`)
      .call(ax(xs).tickValues(specMinorTicks).tickSize(-4).tickSizeOuter(0).tickFormat(""));
    g2.select(".domain").remove();
  });

  // texts
  svg.append("text").attr("x",55).attr("y",t+35).attr("font-weight","bold")
    .attr("font-size",25).attr("fill","#111").text(panelNames[k]);
  svg.append("text").attr("x",82).attr("y",t+192).attr("font-size",18.8)
    .attr("fill","#111").text(statTexts[k]);
}
svg.selectAll(".tick line").attr("stroke","#111").attr("stroke-width",1.1);

// bottom axis titles
svg.append("text").attr("x",447).attr("y",922).attr("text-anchor","middle")
  .attr("font-size",24).attr("fill","#111").text("time (year)");
specMajorTicks.forEach(v=>{
  const tt = svg.append("text").attr("x",xs(v)+2).attr("y",901).attr("text-anchor","middle")
    .attr("font-size",21).attr("fill","#111");
  tt.append("tspan").text("10");
  tt.append("tspan").attr("dy",-11).attr("font-size",14).text(String(Math.round(Math.log10(v))));
});
svg.append("text").attr("x",1117).attr("y",929).attr("text-anchor","middle")
  .attr("font-size",24).attr("fill","#111").text("period (years)");

// legend
const lg = svg.append("g");
lg.append("rect").attr("x",501).attr("y",952).attr("width",509).attr("height",60)
  .attr("fill","#fff").attr("stroke","#111").attr("stroke-width",1.2);
const legX = [[516,596,606],[685,762,772],[851,928,938]];
seriesNames.forEach((n,i)=>{
  lg.append("line").attr("x1",legX[i][0]).attr("x2",legX[i][1]).attr("y1",973).attr("y2",973)
    .attr("stroke",colors[i]).attr("stroke-width",lw);
  lg.append("text").attr("x",legX[i][2]).attr("y",981).attr("font-size",20.5)
    .attr("fill","#111").text(n);
});
</script>
</body></html>
